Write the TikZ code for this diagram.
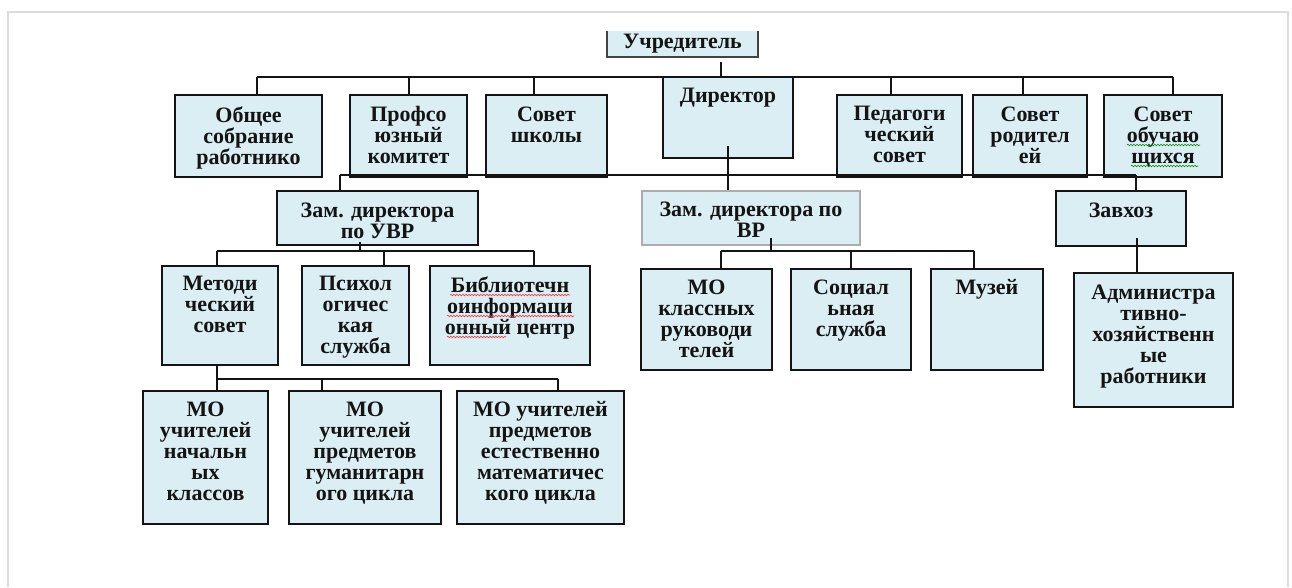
\documentclass[tikz,border=0pt]{standalone}
\usepackage{fontspec}
\setmainfont{Liberation Serif}
\usetikzlibrary{decorations.pathmorphing}
\definecolor{boxfill}{HTML}{DBEEF4}
\definecolor{inkc}{HTML}{141414}
\definecolor{framec}{HTML}{DCDCDC}
\tikzset{
  boxst/.style={draw=inkc, line width=2.8pt, fill=boxfill, inner sep=0pt},
  thinbox/.style={draw=gray!65, line width=1.1pt, fill=boxfill, inner sep=0pt},
  fillonly/.style={fill=boxfill, inner sep=0pt},
  txt/.style={font=\bfseries\fontsize{22}{21}\selectfont, align=center, inner sep=0pt, anchor=north, text=inkc, execute at begin node={\strut}},
  conn/.style={draw=inkc, line width=2.8pt},
  spellred/.style={draw=red!80, line width=0.6pt, decorate, decoration={snake, amplitude=0.8pt, segment length=3pt}},
  spellgreen/.style={draw=green!55!black, line width=0.6pt, decorate, decoration={snake, amplitude=0.8pt, segment length=3pt}}
}
% style, name, x1, y1, x2, y2, first baseline, text
\newcommand\mkbox[8]{%
  \node[#1, minimum width={(#5)-(#3)}, minimum height={(#6)-(#4)}] (#2) at ({((#3)+(#5))/2},{((#4)+(#6))/2}) {};
  \node[txt] (#2t) at ({((#3)+(#5))/2},{(#7)-14.7}) {#8};
}
\begin{document}
\begin{tikzpicture}[x=1pt, y=-1pt]
\useasboundingbox (0,0) rectangle (1292,587);
\fill[white] (0,0) rectangle (1292,587);
% page frame
\draw[framec, line width=2pt] (8,587) -- (8,12) -- (1288,12) -- (1288,587);

% founder (box cut off at top)
\node[fillonly, minimum width=151, minimum height=26] (uch) at (682.5,44) {};
\draw[draw=inkc!80, line width=1.6pt] (uch.north west) -- (uch.south west) -- (uch.south east) -- (uch.north east);
\node[txt] (ucht) at (682.5,33.5) {Учредитель};

% row 2
\mkbox{boxst}{gen}{175}{95}{322}{177}{121}{Общее\\собрание\\работнико}
\mkbox{boxst}{prof}{350}{95}{467}{177}{121}{Профсо\\юзный\\комитет}
\mkbox{boxst}{sovsh}{486}{95}{607}{177}{121}{Совет\\школы}
\mkbox{boxst}{dir}{663}{77}{793}{158}{102}{Директор}
\mkbox{boxst}{ped}{837}{95}{962}{177}{121}{Педагоги\\ческий\\совет}
\mkbox{boxst}{rod}{973}{95}{1087}{177}{121}{Совет\\родител\\ей}
\mkbox{boxst}{obu}{1104}{95}{1222}{177}{121}{Совет\\обучаю\\щихся}

% row 3
\mkbox{boxst}{uvr}{277}{191}{478}{245}{217}{Зам. директора\\по УВР}
\mkbox{thinbox}{vr}{642}{191}{860}{245}{216}{Зам. директора по\\ВР}
\mkbox{boxst}{zav}{1056}{191}{1186}{246}{217}{Завхоз}

% row 4
\mkbox{boxst}{met}{162}{266}{278}{365}{291}{Методи\\ческий\\совет}
\mkbox{boxst}{psy}{302}{266}{409}{365}{291}{Психол\\огичес\\кая\\служба}
\mkbox{boxst}{lib}{430}{266}{590}{365}{291}{Библиотечн\\оинформаци\\онный центр}
\mkbox{boxst}{mok}{641}{269}{772}{370}{294}{МО\\классных\\руководи\\телей}
\mkbox{boxst}{soc}{791}{269}{911}{370}{294}{Социал\\ьная\\служба}
\mkbox{boxst}{mus}{931}{269}{1043}{370}{294}{Музей}
\mkbox{boxst}{adm}{1074}{273}{1233}{407}{299}{Администра\\тивно-\\хозяйственн\\ые\\работники}

% row 5
\mkbox{boxst}{mon}{143}{391}{268}{524}{416}{МО\\учителей\\начальн\\ых\\классов}
\mkbox{boxst}{mog}{289}{391}{441}{524}{416}{МО\\учителей\\предметов\\гуманитарн\\ого цикла}
\mkbox{boxst}{moe}{457}{391}{624}{524}{416}{МО учителей\\предметов\\естественно\\математичес\\кого цикла}

% bus coordinates
\coordinate (u0) at (721,62);
\coordinate (t1) at (257,77);
\coordinate (t2) at (409,77);
\coordinate (t3) at (534,77);
\coordinate (t4) at (891,77);
\coordinate (t5) at (1023,77);
\coordinate (t6) at (1173,77);
\coordinate (d0) at (728,146);
\coordinate (s1) at (340,175);
\coordinate (s2) at (1136,175);
\coordinate (v0) at (360,242);
\coordinate (v1) at (217,251);
\coordinate (v2) at (384,251);
\coordinate (v3) at (534,251);
\coordinate (w0) at (771,238);
\coordinate (w1) at (721,251);
\coordinate (w2) at (851,251);
\coordinate (w3) at (974,251);
\coordinate (z0) at (1137,238);
\coordinate (m0) at (217,365);
\coordinate (m1) at (217,379);
\coordinate (m2) at (322,379);
\coordinate (m3) at (558,379);

% connectors: founder level
\draw[conn] (u0) -- (u0 |- t1);
\draw[conn] (t1) -- (t6);
\draw[conn] (t1) -- (t1 |- gen.north);
\draw[conn] (t2) -- (t2 |- prof.north);
\draw[conn] (t3) -- (t3 |- sovsh.north);
\draw[conn] (t4) -- (t4 |- ped.north);
\draw[conn] (t5) -- (t5 |- rod.north);
\draw[conn] (t6) -- (t6 |- obu.north);
% director level
\draw[conn] (d0) -- (d0 |- vr.north);
\draw[conn] (s1) -- (s2);
\draw[conn] (s1) -- (s1 |- uvr.north);
\draw[conn] (s2) -- (s2 |- zav.north);
% deputy UVR
\draw[conn] (v0) -- (v0 |- v1);
\draw[conn] (v1) -- (v3);
\draw[conn] (v1) -- (v1 |- met.north);
\draw[conn] (v2) -- (v2 |- psy.north);
\draw[conn] (v3) -- (v3 |- lib.north);
% deputy VR
\draw[conn] (w0) -- (w0 |- w1);
\draw[conn] (w1) -- (w3);
\draw[conn] (w1) -- (w1 |- mok.north);
\draw[conn] (w2) -- (w2 |- soc.north);
\draw[conn] (w3) -- (w3 |- mus.north);
% zavhoz
\draw[conn] (z0) -- (z0 |- adm.north);
% methodical council
\draw[conn] (m0) -- (m1);
\draw[conn] (m1) -- (m3);
\draw[conn] (m1) -- (m1 |- mon.north);
\draw[conn] (m2) -- (m2 |- mog.north);
\draw[conn] (m3) -- (m3 |- moe.north);

% spell-check underlines
\draw[spellgreen] (1127,145) -- (1200,145);
\draw[spellgreen] (1131,166) -- (1198,166);
\draw[spellred] (450,295) -- (570,295);
\draw[spellred] (447,316) -- (574,316);
\draw[spellred] (447,337) -- (506,337);
\end{tikzpicture}
\end{document}
